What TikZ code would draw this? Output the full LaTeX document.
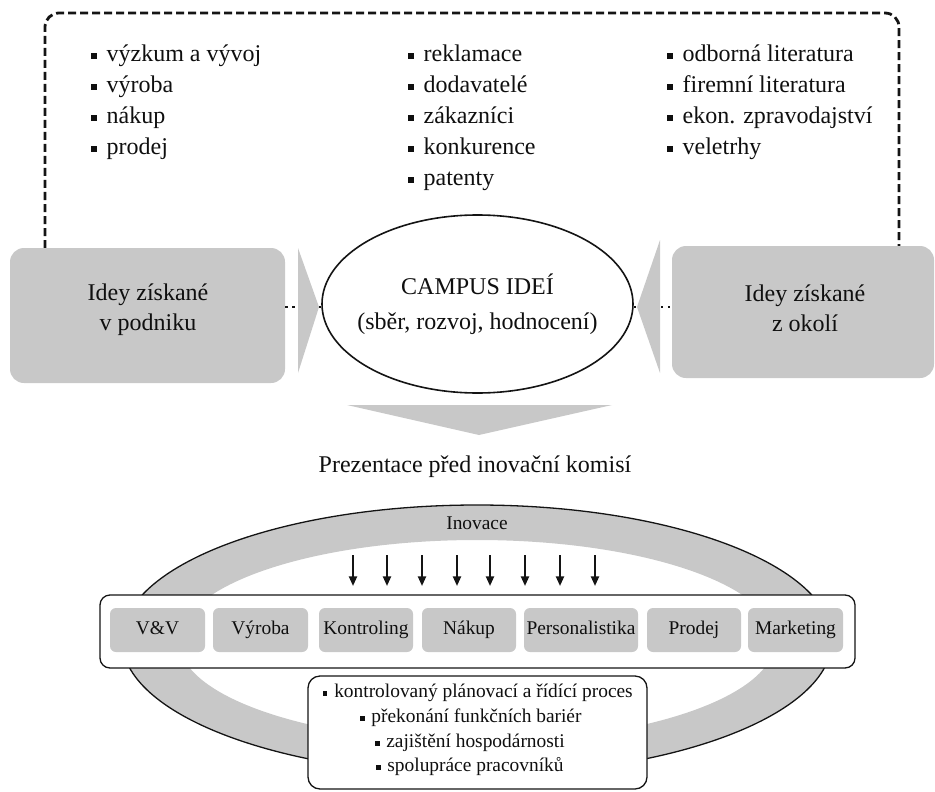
\documentclass[tikz,border=0pt]{standalone}
\usepackage{fontspec}
\setmainfont{Liberation Serif}
\usetikzlibrary{shapes.geometric,arrows.meta}
\definecolor{boxgray}{RGB}{200,200,200}
\definecolor{txtc}{RGB}{15,15,15}
\definecolor{linec}{RGB}{20,20,20}
\newcommand\sqbul{\raisebox{1.3pt}{\rule{2.8pt}{2.8pt}}\hspace{4.8pt}}
\newcommand\smbul{\raisebox{1.1pt}{\rule{2.1pt}{2.1pt}}\hspace{3.4pt}}
\begin{document}
\begin{tikzpicture}[x=0.5pt,y=-0.5pt,
  every node/.style={text=txtc},
  item/.style={anchor=west, inner sep=0pt, font=\fontsize{12}{14}\selectfont, text height=8pt, text depth=2.5pt},
  sidebox/.style={fill=boxgray, rounded corners=7pt, inner sep=0pt},
  sidetext/.style={align=center, inner sep=0pt, font=\fontsize{12}{15}\selectfont},
  campusell/.style={draw=linec, line width=0.8pt, ellipse, fill=white, inner sep=0pt, minimum width=155.5pt, minimum height=89pt},
  campustext/.style={align=center, inner sep=0pt, font=\fontsize{12}{17.5}\selectfont},
  conn/.style={draw=linec, line width=1.2pt, dash pattern=on 1.2pt off 2.2pt},
  tri/.style={fill=boxgray},
  frame/.style={draw=linec, line width=1.4pt, dash pattern=on 4pt off 2pt, rounded corners=7pt},
  funcbox/.style={fill=boxgray, rounded corners=3pt, inner sep=0pt, minimum height=22pt, font=\fontsize{9.7}{11}\selectfont, text height=6.8pt, text depth=2pt},
  whitebox/.style={draw=linec, line width=0.65pt, fill=white, rounded corners=5pt, inner sep=0pt},
  smitem/.style={inner sep=0pt, font=\fontsize{9.7}{11}\selectfont, text height=6.8pt, text depth=2pt},
  downarr/.style={draw=linec, line width=1pt, -{Triangle[length=4.8pt,width=4pt]}}
]
\useasboundingbox (0,0) rectangle (935,791);

% dashed frame
\draw[frame] (45,248) -- (45,13) -- (899,13) -- (899,246);

% top lists
\node[item] (a1) at (91,56) {\sqbul výzkum a vývoj};
\node[item] (a2) at (91,87) {\sqbul výroba};
\node[item] (a3) at (91,118) {\sqbul nákup};
\node[item] (a4) at (91,149) {\sqbul prodej};

\node[item] (b1) at (408,56) {\sqbul reklamace};
\node[item] (b2) at (408,87) {\sqbul dodavatelé};
\node[item] (b3) at (408,118) {\sqbul zákazníci};
\node[item] (b4) at (408,149) {\sqbul konkurence};
\node[item] (b5) at (408,180) {\sqbul patenty};

\node[item] (c1) at (667,56) {\sqbul odborná literatura};
\node[item] (c2) at (667,87) {\sqbul firemní literatura};
\node[item] (c3) at (667,118) {\sqbul ekon. zpravodajství};
\node[item] (c4) at (667,149) {\sqbul veletrhy};

% side boxes
\node[sidebox, minimum width=137.5pt, minimum height=67.5pt] (lbox) at (147.5,315.5) {};
\node[sidebox, minimum width=131pt, minimum height=66pt] (rbox) at (803,312) {};
\node[sidetext] (ltxt) at (148,310) {Idey získané\\v podniku};
\node[sidetext] (rtxt) at (805,308) {Idey získané\\z okolí};

% campus ellipse
\node[campusell] (campus) at (477.5,304) {};
\node[campustext] (ctxt) at (campus.center) {CAMPUS IDEÍ\\(sběr, rozvoj, hodnocení)};

% dotted connectors
\draw[conn] (lbox.east |- 0,307) -- (campus.west |- 0,307);
\draw[conn] (campus.east |- 0,307) -- (rbox.west |- 0,307);

% triangles
\fill[tri] (298,248) -- (319,307) -- (298,373) -- cycle;
\fill[tri] (660,240) -- (637,307) -- (660,373) -- cycle;
\fill[tri] (347,405) -- (612,405) -- (479,435) -- cycle;

% presentation label
\node[inner sep=0pt, font=\fontsize{12}{14}\selectfont] (prez) at (475,467) {Prezentace před inovační komisí};

% ring
\fill[boxgray, even odd rule] (477,640) ellipse [x radius=177.5pt, y radius=67.5pt]
  (477,641) ellipse [x radius=149pt, y radius=50.5pt];
\draw[linec, line width=0.65pt] (477,640) ellipse [x radius=177.5pt, y radius=67.5pt];
\node[smitem] (inov) at (477,525) {Inovace};

% arrows
\foreach \i/\xx in {1/353,2/387,3/422,4/457,5/490,6/525,7/560,8/595}{
  \coordinate (as\i) at (\xx,555);
  \coordinate (ae\i) at (\xx,586);
  \draw[downarr] (as\i) -- (ae\i);
}

% white functions box
\node[whitebox, minimum width=377.5pt, minimum height=36.5pt] (fbox) at (477.5,631.5) {};
\node[funcbox, minimum width=47.5pt] (f1) at (157.5,630) {V\&V};
\node[funcbox, minimum width=47.5pt] (f2) at (260.5,630) {Výroba};
\node[funcbox, minimum width=47pt] (f3) at (366,630) {Kontroling};
\node[funcbox, minimum width=47pt] (f4) at (469,630) {Nákup};
\node[funcbox, minimum width=57pt] (f5) at (581,630) {Personalistika};
\node[funcbox, minimum width=47pt] (f6) at (694,630) {Prodej};
\node[funcbox, minimum width=47.5pt] (f7) at (795.5,630) {Marketing};

% bottom box
\node[whitebox, rounded corners=6pt, minimum width=169.5pt, minimum height=56.5pt] (bbox) at (477.5,732.5) {};
\node[smitem] (l1) at (478,693) {\smbul kontrolovaný plánovací a řídící proces};
\node[smitem] (l2) at (471,718) {\smbul překonání funkčních bariér};
\node[smitem] (l3) at (470,743) {\smbul zajištění hospodárnosti};
\node[smitem] (l4) at (470,767) {\smbul spolupráce pracovníků};
\end{tikzpicture}
\end{document}
